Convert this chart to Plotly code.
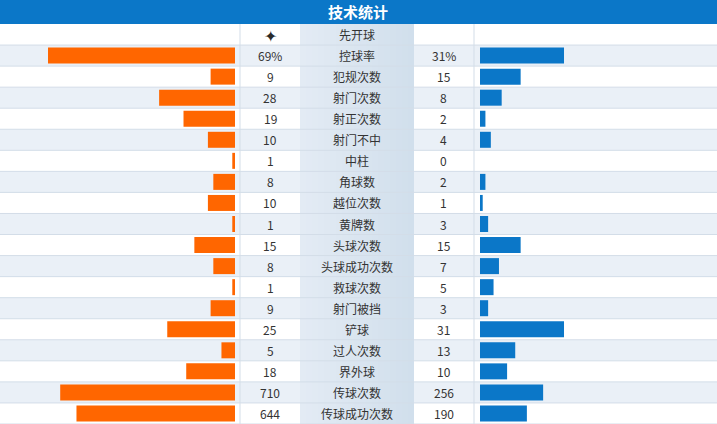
import plotly.graph_objects as go

W, H = 717, 424

title = "技术统计"
labels = ["先开球", "控球率", "犯规次数", "射门次数", "射正次数", "射门不中", "中柱", "角球数",
          "越位次数", "黄牌数", "头球次数", "头球成功次数", "救球次数", "射门被挡", "铲球",
          "过人次数", "界外球", "传球次数", "传球成功次数"]
home_text = ["✦", "69%", "9", "28", "19", "10", "1", "8", "10", "1", "15", "8", "1", "9",
             "25", "5", "18", "710", "644"]
away_text = ["", "31%", "15", "8", "2", "4", "0", "2", "1", "3", "15", "7", "5", "3",
             "31", "13", "10", "256", "190"]
# bar lengths (percent of the bar scale) as drawn in the picture
home_bar = [0, 69, 9, 28, 19, 10, 1, 8, 10, 1, 15, 8, 1, 9, 25, 5, 18, 64.5, 58.5]
away_bar = [0, 31, 15, 8, 2, 4, 0, 2, 1, 3, 15, 7, 5, 3, 31, 13, 10, 23.3, 17.3]

n = len(labels)
rows = list(range(n))

ORANGE = "#ff6600"
BLUE = "#0b77c8"
TEXT = "#333333"
FONT = "Microsoft YaHei, Noto Sans CJK SC, sans-serif"

PX_PER_UNIT = 2.71
top = 24
plot_top = 1 - top / H

fig = go.Figure()
fig.add_trace(go.Bar(y=rows, x=home_bar, orientation="h", xaxis="x", yaxis="y",
                     marker=dict(color=ORANGE, line=dict(width=0)), width=0.76,
                     hoverinfo="skip"))
fig.add_trace(go.Bar(y=rows, x=away_bar, orientation="h", xaxis="x2", yaxis="y",
                     marker=dict(color=BLUE, line=dict(width=0)), width=0.76,
                     hoverinfo="skip"))

shapes = []
# alternating row background
for i in rows:
    if i % 2 == 1:
        shapes.append(dict(type="rect", xref="paper", yref="y", x0=0, x1=1,
                           y0=i - 0.5, y1=i + 0.5, fillcolor="#eaf0f7",
                           line=dict(width=0), layer="below"))
# label column with a soft left-to-right gradient (overlapping strips, no seams)
c0 = (0xe3, 0xeb, 0xf4)
c1 = (0xd1, 0xdf, 0xec)
x_start, x_end, steps = 300, 414, 19
for k in range(steps):
    t = k / (steps - 1)
    col = "rgb(%d,%d,%d)" % tuple(round(a + (b - a) * t) for a, b in zip(c0, c1))
    xa = x_start + (x_end - x_start) * k // steps
    shapes.append(dict(type="rect", xref="paper", yref="paper", x0=xa / W,
                       x1=x_end / W, y0=0, y1=plot_top, fillcolor=col,
                       line=dict(width=0), layer="below"))
# row separators
for i in rows:
    shapes.append(dict(type="line", xref="paper", yref="y", x0=0, x1=1,
                       y0=i + 0.5, y1=i + 0.5, line=dict(color="#d3dde8", width=1),
                       layer="below"))
# vertical separators
for xv in (240, 474):
    shapes.append(dict(type="line", xref="paper", yref="paper", x0=xv / W, x1=xv / W,
                       y0=0, y1=plot_top, line=dict(color="#d3dde8", width=1),
                       layer="below"))
# title bar
shapes.append(dict(type="rect", xref="paper", yref="paper", x0=0, x1=1, y0=plot_top,
                   y1=1, fillcolor=BLUE, line=dict(width=0), layer="below"))

annotations = [dict(text="<b>%s</b>" % title, xref="paper", yref="paper", x=357.5 / W,
                    y=1 - (top / 2) / H, showarrow=False,
                    font=dict(family=FONT, size=15, color="white"),
                    xanchor="center", yanchor="middle")]
for i in rows:
    annotations.append(dict(text=labels[i], xref="paper", yref="y", x=357 / W, y=i,
                            showarrow=False, xanchor="center", yanchor="middle",
                            font=dict(family=FONT, size=12, color=TEXT)))
    ht = home_text[i]
    annotations.append(dict(text=ht, xref="paper", yref="y", x=270 / W, y=i,
                            showarrow=False, xanchor="center", yanchor="middle",
                            font=dict(family=FONT, size=16 if ht == "✦" else 12,
                                      color="#2a2a2a" if ht == "✦" else TEXT)))
    if away_text[i]:
        annotations.append(dict(text=away_text[i], xref="paper", yref="y", x=444 / W,
                                y=i, showarrow=False, xanchor="center",
                                yanchor="middle",
                                font=dict(family=FONT, size=12, color=TEXT)))

fig.update_layout(
    width=W, height=H, margin=dict(l=0, r=0, t=0, b=0),
    paper_bgcolor="white", plot_bgcolor="rgba(0,0,0,0)",
    showlegend=False, barmode="overlay",
    xaxis=dict(domain=[0, 235 / W], range=[235 / PX_PER_UNIT, 0], visible=False,
               fixedrange=True),
    xaxis2=dict(domain=[480 / W, 1], range=[0, 237 / PX_PER_UNIT], visible=False,
                fixedrange=True),
    yaxis=dict(domain=[0, plot_top], range=[n - 0.5, -0.5], visible=False,
               fixedrange=True),
    shapes=shapes, annotations=annotations,
)

fig.write_html("out.html", config={"displayModeBar": False})
